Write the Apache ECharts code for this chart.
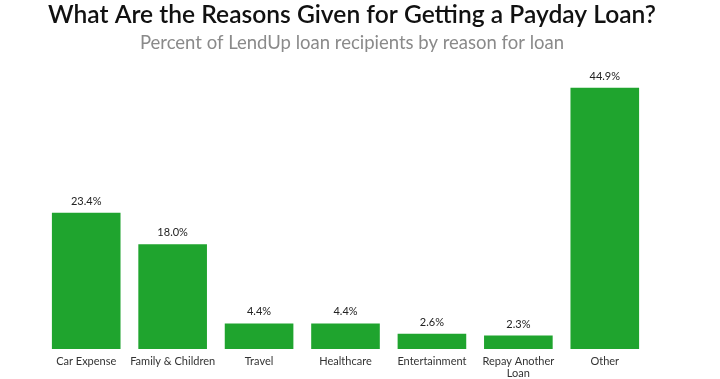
<!DOCTYPE html>
<html>
<head>
<meta charset="utf-8">
<script src="https://cdn.jsdelivr.net/npm/echarts@6/dist/echarts.min.js"></script>
<style>html,body{margin:0;padding:0;background:#fff}#c{width:720px;height:379px}</style>
</head>
<body>
<div id="c"></div>
<script>
var categories = ['Car Expense', 'Family & Children', 'Travel', 'Healthcare', 'Entertainment', 'Repay Another\nLoan', 'Other'];
var values = [23.4, 18.0, 4.4, 4.4, 2.6, 2.3, 44.9];
var titleText = 'What Are the Reasons Given for Getting a Payday Loan?';
var subtitleText = 'Percent of LendUp loan recipients by reason for loan';

var chart = echarts.init(document.getElementById('c'));
chart.setOption({
  animation: false,
  title: {
    text: titleText,
    subtext: subtitleText,
    left: 347,
    textAlign: 'center',
    top: -2,
    itemGap: 6,
    textStyle: {fontFamily: 'Lato', fontSize: 24.6, fontWeight: 600, color: '#111'},
    subtextStyle: {fontFamily: 'Lato', fontSize: 18.5, color: '#8a8a8a'}
  },
  grid: {left: 43, right: 72, top: 58, bottom: 29, containLabel: false},
  xAxis: {
    type: 'category',
    data: categories,
    axisLine: {show: false},
    axisTick: {show: false},
    axisLabel: {fontFamily: 'Lato', fontSize: 11, color: '#333', margin: 6, interval: 0, lineHeight: 12}
  },
  yAxis: {
    type: 'value',
    min: 0,
    max: 50,
    show: false,
    splitLine: {show: false}
  },
  series: [{
    type: 'bar',
    data: values,
    barCategoryGap: '20.6%',
    itemStyle: {color: '#1fa42e'},
    label: {
      show: true,
      position: 'top',
      distance: 6,
      fontFamily: 'Lato',
      fontSize: 11,
      color: '#222',
      formatter: function (p) { return p.value.toFixed(1) + '%'; }
    }
  }]
});
</script>
</body>
</html>
